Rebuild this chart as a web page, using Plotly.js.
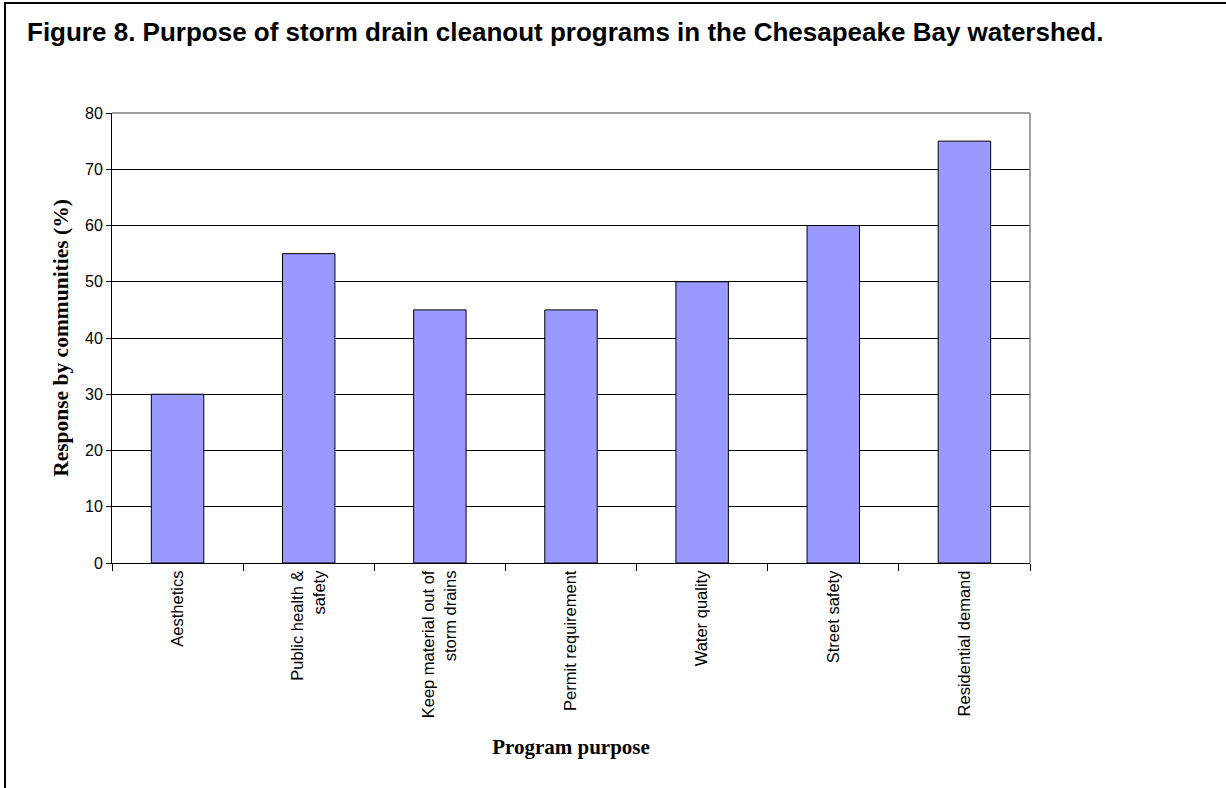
<!DOCTYPE html>
<html>
<head>
<meta charset="utf-8">
<script src="https://cdn.plot.ly/plotly-3.0.1.min.js"></script>
<style>html,body{margin:0;padding:0;background:#fff;}#chart{width:1226px;height:788px;}</style>
</head>
<body>
<div id="chart"></div>
<script>
const categories = ["Aesthetics", "Public health &<br>safety", "Keep material out of<br>storm drains", "Permit requirement", "Water quality", "Street safety", "Residential demand"];
const responses = [30, 55, 45, 45, 50, 60, 75];
const yTicks = [0, 10, 20, 30, 40, 50, 60, 70, 80];

const W = 1226, H = 788;
const M = {l: 112, r: 196, t: 113, b: 225};
const pw = W - M.l - M.r, ph = H - M.t - M.b;
function px2x(p){ return (p - M.l) / pw; }
function px2y(p){ return (H - M.b - p) / ph; }

const trace = {
  type: 'bar',
  x: categories,
  y: responses,
  marker: {color: '#9999FF', line: {color: '#000000', width: 1}},
  hoverinfo: 'x+y'
};

const layout = {
  width: W, height: H,
  margin: M,
  paper_bgcolor: '#ffffff',
  plot_bgcolor: '#ffffff',
  showlegend: false,
  bargap: 0.6,
  title: {
    text: '<b>Figure 8. Purpose of storm drain cleanout programs in the Chesapeake Bay watershed.</b>',
    font: {family: 'Arial, Liberation Sans, sans-serif', size: 26, color: '#000'},
    xref: 'container', yref: 'container',
    x: 27 / W, xanchor: 'left',
    y: 1 - 32 / H, yanchor: 'middle'
  },
  xaxis: {
    type: 'category',
    tickangle: -90,
    tickfont: {family: 'Arial, Liberation Sans, sans-serif', size: 16.5, color: '#000'},
    ticks: 'outside', ticklen: 7, tickcolor: '#000', tickwidth: 1,
    tickson: 'boundaries',
    showline: true, linecolor: '#000', linewidth: 1,
    showgrid: false, zeroline: false,
    automargin: false,
    title: {
      text: '<b>Program purpose</b>',
      font: {family: 'Times New Roman, Liberation Serif, serif', size: 21, color: '#000'},
      standoff: 22
    }
  },
  yaxis: {
    range: [0, 80],
    tickvals: yTicks,
    ticktext: yTicks.map(String),
    tickfont: {family: 'Arial, Liberation Sans, sans-serif', size: 16, color: '#000'},
    ticks: 'outside', ticklen: 5, tickcolor: '#000', tickwidth: 1,
    showline: true, linecolor: '#000', linewidth: 1,
    showgrid: true, gridcolor: '#000', gridwidth: 1,
    zeroline: false,
    automargin: false,
    title: {
      text: '<b>Response by communities (%)</b>',
      font: {family: 'Times New Roman, Liberation Serif, serif', size: 21.5, color: '#000'},
      standoff: 10
    }
  },
  shapes: [
    {type: 'line', xref: 'paper', yref: 'paper', x0: 0, x1: 1, y0: 1, y1: 1, line: {color: '#808080', width: 1.5}, layer: 'above'},
    {type: 'line', xref: 'paper', yref: 'paper', x0: 1, x1: 1, y0: 0, y1: 1, line: {color: '#808080', width: 1.5}, layer: 'above'},
    {type: 'rect', xref: 'paper', yref: 'paper', x0: px2x(5), x1: px2x(1250), y0: px2y(3), y1: px2y(820), line: {color: '#000', width: 2}, fillcolor: 'rgba(0,0,0,0)', layer: 'above'}
  ]
};

Plotly.newPlot('chart', [trace], layout, {displayModeBar: false, staticPlot: true});
</script>
</body>
</html>
